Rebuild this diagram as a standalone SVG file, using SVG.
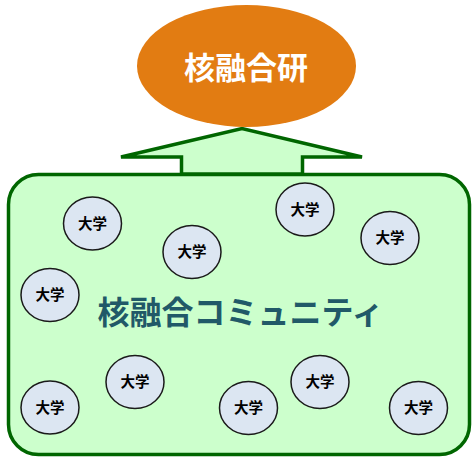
<svg xmlns="http://www.w3.org/2000/svg" width="473" height="458" viewBox="0 0 473 458">
<style>
.uni ellipse{fill:#dce6f2;stroke:#1a1a1a;stroke-width:1.5}
.uni text{font-family:"Liberation Sans","Noto Sans CJK JP",sans-serif;font-weight:bold;font-size:14.5px;fill:#000;text-anchor:middle;dominant-baseline:central}
</style>
<rect width="473" height="458" fill="#fff"/>
<g id="community">
<rect x="8.5" y="174.5" width="461" height="280" rx="30" ry="30" fill="#ccffcc" stroke="#006600" stroke-width="3.5"/>
<text x="240.5" y="313" font-family="Liberation Sans,'Noto Sans CJK JP',sans-serif" font-weight="bold" font-size="32" fill="#215968" text-anchor="middle" dominant-baseline="central">核融合コミュニティ</text>
</g>
<g id="connectors">
<polygon points="181.5,174 181.5,157 121,157 242,128.5 362,157 302.5,157 302.5,174" fill="#ccffcc" stroke="#006600" stroke-width="3.5"/>
</g>
<g id="kakuyugoken">
<ellipse cx="246.5" cy="66" rx="109.5" ry="61" fill="#e27c12"/>
<text x="246" y="68" font-family="Liberation Sans,'Noto Sans CJK JP',sans-serif" font-weight="bold" font-size="31" fill="#fff" text-anchor="middle" dominant-baseline="central">核融合研</text>
</g>
<g id="u1" class="uni"><ellipse cx="92.5" cy="223.5" rx="29" ry="26.5"/><text x="92.5" y="223.5">大学</text></g>
<g id="u2" class="uni"><ellipse cx="192" cy="252" rx="29" ry="26.5"/><text x="192" y="252">大学</text></g>
<g id="u3" class="uni"><ellipse cx="50" cy="295" rx="29" ry="26.5"/><text x="50" y="295">大学</text></g>
<g id="u4" class="uni"><ellipse cx="305" cy="209.5" rx="29" ry="26.5"/><text x="305" y="209.5">大学</text></g>
<g id="u5" class="uni"><ellipse cx="390" cy="238" rx="29" ry="26.5"/><text x="390" y="238">大学</text></g>
<g id="u6" class="uni"><ellipse cx="50" cy="407.5" rx="29" ry="26.5"/><text x="50" y="407.5">大学</text></g>
<g id="u7" class="uni"><ellipse cx="135" cy="382" rx="29" ry="26.5"/><text x="135" y="382">大学</text></g>
<g id="u8" class="uni"><ellipse cx="248.5" cy="408" rx="29" ry="26.5"/><text x="248.5" y="408">大学</text></g>
<g id="u9" class="uni"><ellipse cx="320" cy="382" rx="29" ry="26.5"/><text x="320" y="382">大学</text></g>
<g id="u10" class="uni"><ellipse cx="418.5" cy="408" rx="29" ry="26.5"/><text x="418.5" y="408">大学</text></g>
</svg>
